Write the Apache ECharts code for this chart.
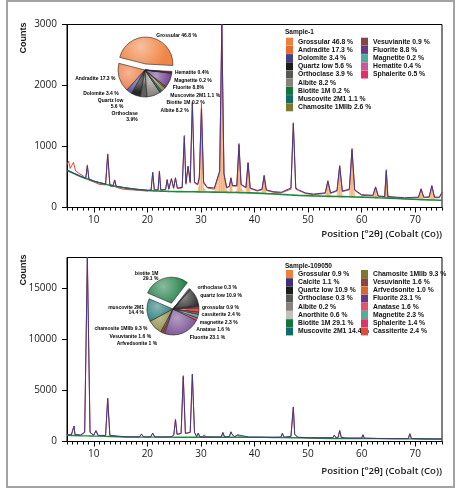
<!DOCTYPE html>
<html><head><meta charset="utf-8">
<script src="https://cdn.jsdelivr.net/npm/echarts@6/dist/echarts.min.js"></script>
<style>html,body{margin:0;padding:0;background:#fff}#c{width:464px;height:493px}</style>
</head><body><div id="c"></div>
<script>
// ---------- tick labels ----------
const xTickLabels = [10, 20, 30, 40, 50, 60, 70];
const topYTicks = [0, 1000, 2000, 3000];
const botYTicks = [0, 5000, 10000, 15000];

// ---------- Sample-1 pattern (2θ, background, calculated, observed, grossular profile above bg) ----------
const topX    = [5.0,5.3,5.6,6.2,6.6,7.2,8.0,8.5,8.8,9.1,10.0,11.0,12.2,12.6,13.0,13.6,13.9,14.2,15.5,17.0,18.5,20.0,20.7,21.0,21.3,22.0,22.25,22.5,23.4,23.7,24.0,24.5,24.9,25.25,25.6,26.5,26.9,27.2,27.6,28.0,28.4,28.8,29.4,29.7,30.1,30.5,31.2,32.5,33.5,33.9,34.3,34.8,35.3,35.6,35.9,36.7,37.1,37.5,38.4,38.8,39.2,40.5,41.4,41.8,42.2,43.5,45.0,46.8,47.25,47.7,48.2,49.5,51.0,53.2,53.7,54.2,55.4,55.9,56.4,57.7,58.2,58.7,60.0,62.1,62.6,63.1,64.3,64.6,64.9,66.5,68.0,70.6,71.1,71.6,72.6,73.1,73.6,74.5,75.0];
const topBg   = [610,595,585,560,545,520,490,475,468,460,430,405,380,372,365,355,350,345,325,305,290,278,275,273,272,270,269,268,266,265,264,263,262,262,261,260,259,259,258,258,257,257,256,256,255,255,254,252,250,250,249,248,247,247,246,245,244,243,241,240,239,236,232,230,228,224,215,205,203,200,198,195,190,184,183,182,180,179,178,175,174,173,170,163,162,160,156,155,154,148,140,130,129,128,125,124,123,120,118];
const topCalc = [610,600,590,565,550,525,495,480,680,470,435,410,385,870,375,360,453,350,330,310,295,285,285,573,290,290,590,290,295,453,300,470,320,481,320,330,1160,400,672,420,1710,420,380,500,1620,420,330,320,600,3000,560,330,350,481,360,360,1030,380,330,730,320,280,300,520,290,260,250,320,1380,320,290,240,220,240,430,240,280,680,270,300,945,290,210,200,335,190,180,600,180,170,160,170,300,170,175,355,170,170,250];
const topObs  = [700,760,640,740,600,560,520,470,700,450,420,380,370,880,350,340,450,330,300,290,280,270,290,580,280,285,600,280,290,460,300,475,310,490,310,320,1180,380,680,400,1730,400,370,480,1700,400,320,300,580,3000,540,320,340,490,350,350,1050,370,320,740,310,270,290,530,280,250,240,300,1390,300,280,230,210,230,440,230,270,690,260,290,970,280,200,190,340,180,170,620,170,160,150,160,310,160,165,360,160,160,240];
const topGross= [0,0,0,0,0,0,0,0,0,0,0,0,0,0,0,0,0,0,0,0,0,0,0,0,0,0,0,0,0,0,0,0,0,0,0,0,0,0,0,0,0,0,0,100,1100,60,0,0,300,2600,250,30,0,180,0,20,700,60,0,420,0,0,0,250,0,0,0,0,0,0,0,0,0,0,200,0,0,420,0,0,650,0,0,0,150,0,0,400,0,0,0,0,150,0,0,200,0,0,0];

// ---------- Sample-109050 pattern ----------
const botX    = [5.0,5.8,6.1,6.3,6.5,7.5,8.3,8.8,9.3,10.0,10.4,10.8,12.2,12.6,13.0,14.5,16.0,18.5,18.9,19.3,20.6,21.0,21.4,23.0,24.0,24.3,24.6,24.95,25.25,25.55,26.3,26.7,27.1,28.0,28.4,28.8,29.2,29.5,29.8,30.3,30.6,30.9,32.8,33.1,33.4,33.8,34.1,34.4,35.3,35.6,35.8,36.0,36.3,36.6,36.9,37.2,39.0,41.3,41.6,41.9,43.5,44.9,45.2,45.5,46.8,47.25,47.5,47.8,48.1,50.0,52.0,54.6,54.9,55.2,55.6,55.9,56.2,57.0,57.3,57.6,60.0,60.25,60.5,62.5,62.75,63.0,66.0,68.7,69.0,69.3,72.0,75.0];
const botBg   = [600,590,585,583,580,565,555,550,545,535,530,525,500,495,490,460,440,430,430,430,428,428,427,425,425,424,424,423,423,423,422,422,421,421,420,420,419,419,418,418,417,417,415,414,414,413,413,412,411,410,410,410,410,409,409,408,405,400,400,399,395,385,384,383,370,367,365,362,360,330,315,300,300,300,298,297,296,294,293,292,288,287,286,280,279,278,268,258,257,256,245,234];
const botCalc = [650,640,700,1500,680,640,900,18000,900,620,1050,600,600,4200,600,520,470,450,700,450,450,820,450,440,450,625,460,700,2120,700,800,6350,800,900,6580,900,480,820,470,460,650,450,440,560,440,450,880,460,470,950,700,820,480,470,650,460,430,430,560,420,410,420,780,420,500,3360,700,750,420,380,360,380,625,380,400,1075,400,340,490,330,330,650,330,310,430,300,290,290,750,290,260,250];
const botObs  = [700,620,680,1520,660,600,880,18000,880,600,1080,580,580,4250,580,500,450,440,750,440,440,800,440,430,440,620,450,700,2200,680,780,6450,780,880,6550,880,470,800,460,450,660,440,430,570,430,440,870,450,460,940,700,810,470,460,660,450,420,420,570,410,400,410,820,410,480,3380,680,740,400,370,350,360,610,370,390,1060,390,330,480,320,320,660,320,300,420,290,280,280,760,280,250,240];

// ---------- phase quantification ----------
const topPieNames  = ['Grossular','Andradite','Dolomite','Quartz low','Orthoclase','Albite','Biotite 1M','Muscovite 2M1','Chamosite 1MIIb','Vesuvianite','Fluorite','Magnetite','Hematite','Sphalerite'];
const topPieValues = [46.8,17.3,3.4,5.6,3.9,8.2,0.2,1.1,2.6,0.9,8.8,0.2,0.4,0.5];
const topPieLabels = ['Grossular 46.8 %','Andradite 17.3 %','Dolomite 3.4 %','Quartz low\n5.6 %','Orthoclase\n3.9%','Albite 8.2 %','Biotite 1M 0.2 %','Muscovite 2M1 1.1 %','','','Fluorite 8.8%','Magnetite 0.2 %','Hematite 0.4%',''];
const topColors    = ['#EF7F3C','#E96A2B','#40408C','#1C1C1A','#5A5853','#87837C','#12763A','#0C6E6B','#7D7A2B','#8A4441','#693886','#4BAF9B','#C4599B','#E2306B'];

const botPieNames  = ['Grossular','Calcite','Quartz low','Orthoclase','Albite','Anorthite','Biotite 1M','Muscovite 2M1','Chamosite 1MIIb','Vesuvianite','Arfvedsonite','Fluorite','Anatase','Magnetite','Sphalerite','Cassiterite'];
const botPieValues = [0.9,1.1,10.9,0.3,0.2,0.6,29.1,14.4,9.3,1.6,1.0,23.1,1.6,2.3,1.4,2.4];
const botPieLabels = ['grossular 0.9 %','','quartz low 10.9 %','orthoclase 0.3 %','','','biotite 1M\n29.1 %','muscovite 2M1\n14.4 %','chamosite 1MIIb 9.3 %','Vesuvianite 1.6 %','Arfvedsonite 1 %','Fluorite 23.1 %','Anatase 1.6 %','magnetite 2.3 %','','cassiterite 2.4 %'];
const botColors    = ['#EF7F3C','#3E2E7E','#1C1C1A','#5A5853','#87837C','#C5C0B9','#12763A','#0C6E6B','#7D7A2B','#8A4441','#D9692A','#693886','#E4526F','#4BAF9B','#E2306B','#E24B37'];

// ---------- helpers ----------
const zip = (xs, ys) => xs.map((x, i) => [x, ys[i]]);
function lighten(hex, t) {
  const n = parseInt(hex.slice(1), 16);
  const r = (n >> 16) & 255, g = (n >> 8) & 255, b = n & 255;
  const m = v => Math.round(v + (255 - v) * t);
  return 'rgb(' + m(r) + ',' + m(g) + ',' + m(b) + ')';
}
const legendText = (names, vals) => names.map((n, i) => n + ' ' + vals[i].toFixed(1) + ' %');
const topLegendNames = legendText(topPieNames, topPieValues);
const botLegendNames = legendText(botPieNames, botPieValues);

const FONT_NARROW = '"Liberation Sans Narrow", "Liberation Sans", sans-serif';
const FONT_AX = '"Open Sans", sans-serif';

function pieData(names, vals, colors, labels, selIdx) {
  return names.map((n, i) => ({
    name: n,
    value: vals[i],
    selected: i === selIdx,
    itemStyle: { color: { type: 'radial', x: 0.4, y: 0.35, r: 0.9,
      colorStops: [{ offset: 0, color: lighten(colors[i], 0.5) }, { offset: 1, color: lighten(colors[i], 0.05) }] } },
    label: labels[i] ? { formatter: labels[i] } : { show: false }
  }));
}
function mkLegend(names, colors, from, to, left, top) {
  return {
    orient: 'vertical', left: left, top: top, padding: 0, itemGap: 0.2,
    itemWidth: 7, itemHeight: 8, icon: 'rect', selectedMode: false,
    textStyle: { fontSize: 6.8, fontWeight: 'bold', fontFamily: FONT_NARROW, color: '#111', lineHeight: 8 },
    data: names.slice(from, to).map((n, k) => ({ name: n, itemStyle: { color: colors[from + k], borderWidth: 0 } }))
  };
}
function mkX(grid) {
  return [{
    type: 'value', gridIndex: grid, min: 5, max: 75, interval: 1,
    axisLine: { lineStyle: { color: '#000', width: 1 } },
    axisTick: { length: 3, lineStyle: { color: '#000' } },
    axisLabel: { customValues: xTickLabels, margin: 8, fontSize: 10, fontFamily: FONT_AX, color: '#1a1a1a', formatter: v => String(v) },
    splitLine: { show: false }
  }, {
    type: 'value', gridIndex: grid, min: 5, max: 75, position: 'bottom',
    axisLine: { show: false },
    axisTick: { customValues: xTickLabels, length: 5, lineStyle: { color: '#000' } },
    axisLabel: { show: false }, splitLine: { show: false }
  }];
}
function mkY(grid, max, ticks) {
  return {
    type: 'value', gridIndex: grid, min: 0, max: max,
    axisLine: { show: true, lineStyle: { color: '#000' } },
    axisTick: { show: true, customValues: ticks, length: 5, lineStyle: { color: '#000' } },
    axisLabel: { customValues: ticks, margin: 10, fontSize: 10, fontFamily: FONT_AX, color: '#1a1a1a', formatter: v => String(v) },
    splitLine: { show: false }
  };
}
const lineBase = { type: 'line', symbol: 'none', silent: true, animation: false };
const pieBase = {
  type: 'pie', clockwise: false, selectedMode: 'multiple', selectedOffset: 6,
  animation: false, avoidLabelOverlap: true, z: 5,
  itemStyle: { borderColor: '#222', borderWidth: 0.6 },
  label: { position: 'outside', fontSize: 5, fontWeight: 'bold', fontFamily: FONT_NARROW, color: '#000', lineHeight: 5.5 },
  labelLine: { show: false, length: 2, length2: 1 }
};
// phase-profile fill between background and background + profile, via the axis scales
function profileFill(params, api) {
  const i = params.dataIndexInside;
  if (i >= params.dataInsideLength - 1) return;
  const g0 = api.value(2, i), g1 = api.value(2, i + 1);
  if (!g0 && !g1) return;
  const x0 = api.value(0, i), x1 = api.value(0, i + 1);
  const b0 = api.value(1, i), b1 = api.value(1, i + 1);
  return {
    type: 'polygon',
    shape: { points: [api.coord([x0, b0]), api.coord([x0, b0 + g0]), api.coord([x1, b1 + g1]), api.coord([x1, b1])] },
    style: { fill: 'rgba(245,160,85,0.55)', stroke: 'rgba(240,140,60,0.8)', lineWidth: 0.4 }
  };
}

const option = {
  backgroundColor: '#fff',
  animation: false,
  grid: [
    { left: 67, top: 24.5, width: 375, height: 183, show: true, borderColor: '#000', borderWidth: 1 },
    { left: 67, top: 257.5, width: 375, height: 184, show: true, borderColor: '#000', borderWidth: 1 }
  ],
  xAxis: [...mkX(0), ...mkX(1)],
  yAxis: [mkY(0, 3000, topYTicks), mkY(1, 18000, botYTicks)],
  legend: [
    mkLegend(topLegendNames, topColors, 0, 9, 286, 37.7),
    mkLegend(topLegendNames, topColors, 9, 14, 361, 37.7),
    mkLegend(botLegendNames, botColors, 0, 8, 286, 270),
    mkLegend(botLegendNames, botColors, 8, 16, 361, 270)
  ],
  graphic: [
    { type: 'rect', shape: { x: 7, y: 1, width: 447, height: 486 }, style: { fill: 'none', stroke: '#a3a3a3', lineWidth: 2 }, silent: true },
    { type: 'text', x: 24, y: 38, rotation: Math.PI / 2, style: { text: 'Counts', font: 'bold 9px ' + FONT_NARROW, fill: '#1a1a1a', align: 'center', verticalAlign: 'middle' } },
    { type: 'text', x: 24, y: 270, rotation: Math.PI / 2, style: { text: 'Counts', font: 'bold 9px ' + FONT_NARROW, fill: '#1a1a1a', align: 'center', verticalAlign: 'middle' } },
    { type: 'text', x: 442, y: 234, style: { text: 'Position [°2θ] (Cobalt (Co))', font: '600 9.6px ' + FONT_AX, fill: '#1a1a1a', align: 'right', verticalAlign: 'middle' } },
    { type: 'text', x: 442, y: 471, style: { text: 'Position [°2θ] (Cobalt (Co))', font: '600 9.6px ' + FONT_AX, fill: '#1a1a1a', align: 'right', verticalAlign: 'middle' } },
    { type: 'text', x: 285, y: 32.5, style: { text: 'Sample-1', font: 'bold 6.5px ' + FONT_NARROW, fill: '#111', verticalAlign: 'middle' } },
    { type: 'text', x: 285, y: 266, style: { text: 'Sample-109050', font: 'bold 6.5px ' + FONT_NARROW, fill: '#111', verticalAlign: 'middle' } }
  ],
  series: [
    // ----- top pattern -----
    Object.assign({}, lineBase, { xAxisIndex: 0, yAxisIndex: 0, data: zip(topX, topObs), lineStyle: { color: '#E8452C', width: 1 }, z: 2 }),
    { type: 'custom', xAxisIndex: 0, yAxisIndex: 0, silent: true, clip: true, z: 2,
      data: topX.map((x, i) => [x, topBg[i], topGross[i]]), encode: { x: 0, y: 1 }, renderItem: profileFill },
    Object.assign({}, lineBase, { xAxisIndex: 0, yAxisIndex: 0, data: zip(topX, topBg), lineStyle: { color: '#1E8A3C', width: 1.6 }, z: 3 }),
    Object.assign({}, lineBase, { xAxisIndex: 0, yAxisIndex: 0, data: zip(topX, topCalc), lineStyle: { color: '#3D3A8E', width: 1 }, z: 3 }),
    // ----- bottom pattern -----
    Object.assign({}, lineBase, { xAxisIndex: 2, yAxisIndex: 1, data: zip(botX, botObs), lineStyle: { color: '#E8452C', width: 1 }, z: 2 }),
    Object.assign({}, lineBase, { xAxisIndex: 2, yAxisIndex: 1, data: zip(botX, botBg), lineStyle: { color: '#1E8A3C', width: 1.4 }, z: 3 }),
    Object.assign({}, lineBase, { xAxisIndex: 2, yAxisIndex: 1, data: zip(botX, botCalc), lineStyle: { color: '#3D3A8E', width: 1 }, z: 3 }),
    // ----- pies -----
    Object.assign({}, pieBase, { center: [145, 70], radius: 27, startAngle: -3,
      data: pieData(topLegendNames, topPieValues, topColors, topPieLabels, 0) }),
    Object.assign({}, pieBase, { center: [173, 309], radius: 26, startAngle: 2,
      data: pieData(botLegendNames, botPieValues, botColors, botPieLabels, 6) })
  ]
};
const chart = echarts.init(document.getElementById('c'), null, { renderer: 'canvas' });
chart.setOption(option);
</script></body></html>
